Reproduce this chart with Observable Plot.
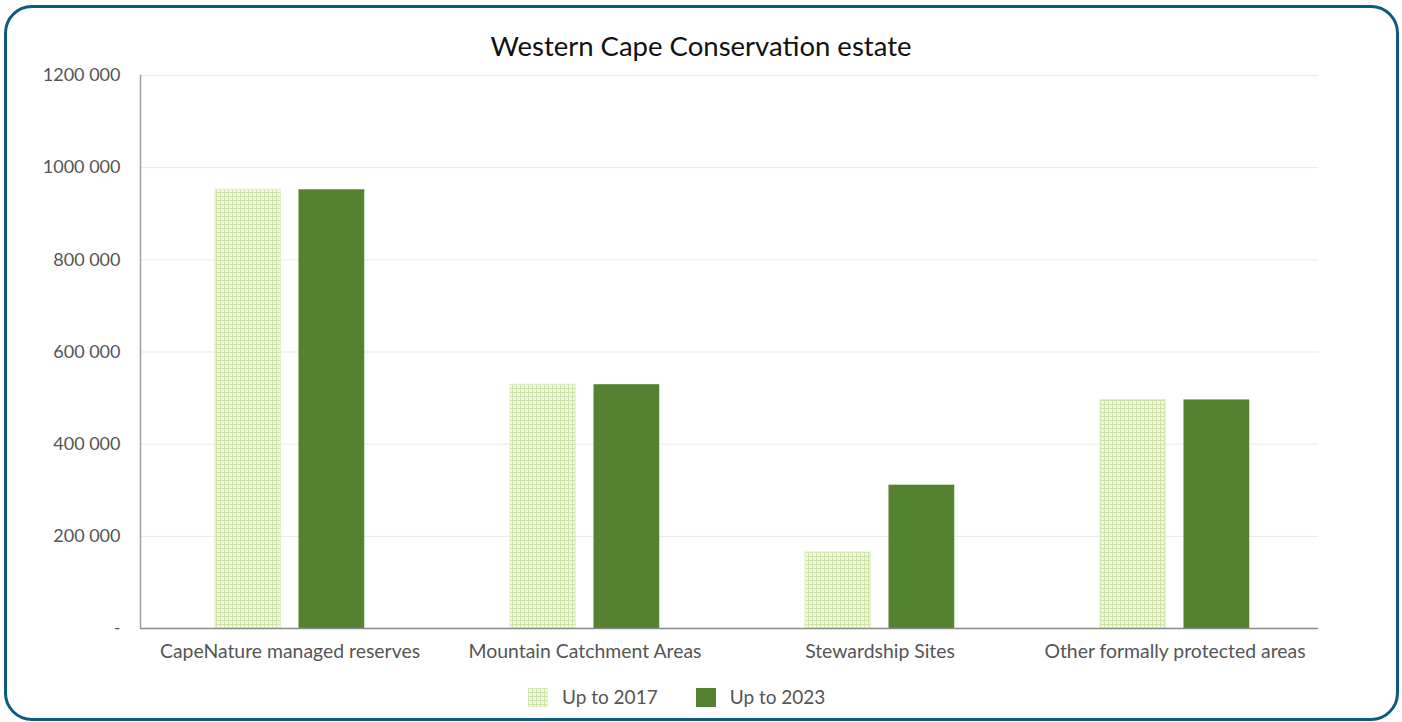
<!DOCTYPE html>
<html><head><meta charset="utf-8">
<script src="https://cdn.jsdelivr.net/npm/d3@7"></script>
<script src="https://cdn.jsdelivr.net/npm/@observablehq/plot@0.6"></script>
<style>
html,body{margin:0;padding:0;background:#fff;}
body{width:1402px;height:722px;position:relative;overflow:hidden;font-family:"Lato","Open Sans",sans-serif;}
#frame{position:absolute;left:4px;top:5px;width:1395px;height:716px;box-sizing:border-box;border:3px solid #0f5b7e;border-radius:28px;}
#title{position:absolute;left:0;top:30px;width:1402px;text-align:center;font-size:27.5px;line-height:32px;color:#111;}
#chart{position:absolute;left:0;top:60px;}
#legend{position:absolute;left:528px;top:686px;display:flex;align-items:center;font-size:19px;color:#555;line-height:22px;}
#legend .item{display:flex;align-items:center;margin-right:38px;}
#legend svg{margin-right:14px;}
</style></head><body>
<div id="frame"></div>
<div id="title">Western Cape Conservation estate</div>
<div id="chart"></div>
<div id="legend"></div>
<script>
const categories = ["CapeNature managed reserves", "Mountain Catchment Areas", "Stewardship Sites", "Other formally protected areas"];
const seriesNames = ["Up to 2017", "Up to 2023"];
const values2017 = [952000, 529000, 165000, 496000];
const values2023 = [952000, 529000, 311000, 496000];
const yTicks = [0, 200000, 400000, 600000, 800000, 1000000, 1200000];

const colorDark = "#558230";
const patternId = "grid2017";

const data2017 = categories.map((c, i) => ({category: c, series: seriesNames[0], value: values2017[i]}));
const data2023 = categories.map((c, i) => ({category: c, series: seriesNames[1], value: values2023[i]}));

const fmt = v => v === 0 ? "-" : `${Math.floor(v / 1000)} 000`;

const W = 1402, H = 620, ML = 140, MR = 79;
const bw = (W - ML - MR) / categories.length;

const chart = Plot.plot({
  width: W,
  height: H,
  marginLeft: ML,
  marginRight: MR,
  marginTop: 15,
  marginBottom: 52,
  style: {color: "#555", fontFamily: "Lato, 'Open Sans', sans-serif", background: "transparent"},
  x: {domain: categories, padding: 0, label: null},
  y: {domain: [0, 1200000], label: null},
  marks: [
    Plot.ruleY(yTicks.filter(v => v > 0), {stroke: "#e9e9e9", insetRight: 5}),
    Plot.barY(data2017, {x: "category", y: "value", fill: `url(#${patternId})`, stroke: "#dfedc6", strokeWidth: 1,
      insetLeft: 73, insetRight: bw - 139}),
    Plot.barY(data2023, {x: "category", y: "value", fill: colorDark,
      insetLeft: 156.5, insetRight: bw - 223}),
    Plot.ruleY([0], {stroke: "#8a8a8a", strokeWidth: 1.5, insetRight: 5}),
    Plot.frame({anchor: "left", stroke: "#a0a0a0", strokeWidth: 1.5}),
    Plot.axisY({ticks: yTicks, tickSize: 0, tickPadding: 20, tickFormat: fmt, fontSize: 18, label: null}),
    Plot.axisX({tickSize: 0, tickPadding: 16, fontSize: 19.4, label: null})
  ]
});

const defs = d3.select(chart).insert("defs", ":first-child");
const pat = defs.append("pattern").attr("id", patternId).attr("width", 4).attr("height", 4).attr("patternUnits", "userSpaceOnUse");
pat.append("rect").attr("width", 4).attr("height", 4).attr("fill", "#f1f8e5");
pat.append("path").attr("d", "M0 0.5H4M0.5 0V4").attr("stroke", "#cde3a6").attr("stroke-width", 1);

document.getElementById("chart").appendChild(chart);

const legend = d3.select("#legend");
seriesNames.forEach((name, i) => {
  const item = legend.append("div").attr("class", "item");
  const sw = item.append("svg").attr("width", 20).attr("height", 19);
  sw.append("rect").attr("width", 20).attr("height", 19)
    .attr("fill", i === 0 ? `url(#${patternId})` : colorDark)
    .attr("stroke", i === 0 ? "#dfedc6" : "none");
  item.append("span").text(name);
});
</script>
</body></html>
